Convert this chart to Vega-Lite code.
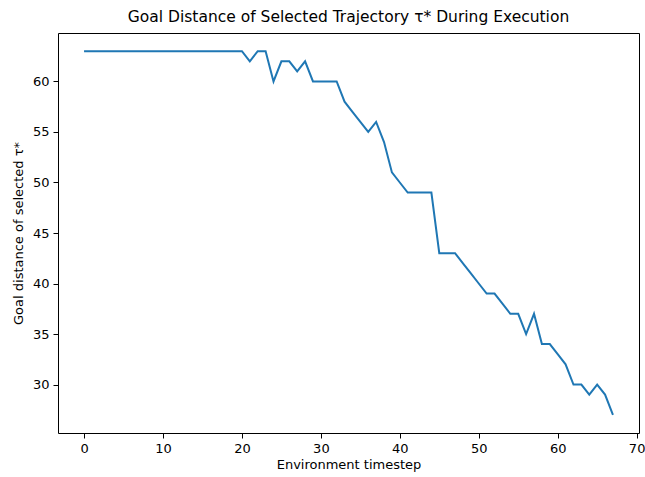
{
  "$schema": "https://vega.github.io/schema/vega-lite/v6.json",
  "width": 581,
  "height": 400,
  "autosize": {"type": "none"},
  "padding": {"left": 58, "top": 33, "right": 6, "bottom": 44},
  "background": "white",
  "config": {
    "font": "DejaVu Sans",
    "view": {"stroke": "black", "strokeWidth": 1},
    "axis": {"grid": false, "domain": false, "tickColor": "black", "tickSize": 5, "labelColor": "black", "titleColor": "black", "labelFontSize": 13, "titleFontSize": 13, "titleFontWeight": "normal", "labelFont": "DejaVu Sans", "titleFont": "DejaVu Sans"}
  },
  "title": {"text": "Goal Distance of Selected Trajectory τ* During Execution", "font": "DejaVu Sans", "fontSize": 15.5, "fontWeight": "normal", "color": "black", "offset": 8},
  "data": {"values": [
    {"t": 0, "d": 63}, {"t": 1, "d": 63}, {"t": 2, "d": 63}, {"t": 3, "d": 63}, {"t": 4, "d": 63},
    {"t": 5, "d": 63}, {"t": 6, "d": 63}, {"t": 7, "d": 63}, {"t": 8, "d": 63}, {"t": 9, "d": 63},
    {"t": 10, "d": 63}, {"t": 11, "d": 63}, {"t": 12, "d": 63}, {"t": 13, "d": 63}, {"t": 14, "d": 63},
    {"t": 15, "d": 63}, {"t": 16, "d": 63}, {"t": 17, "d": 63}, {"t": 18, "d": 63}, {"t": 19, "d": 63},
    {"t": 20, "d": 63}, {"t": 21, "d": 62}, {"t": 22, "d": 63}, {"t": 23, "d": 63}, {"t": 24, "d": 60},
    {"t": 25, "d": 62}, {"t": 26, "d": 62}, {"t": 27, "d": 61}, {"t": 28, "d": 62}, {"t": 29, "d": 60},
    {"t": 30, "d": 60}, {"t": 31, "d": 60}, {"t": 32, "d": 60}, {"t": 33, "d": 58}, {"t": 34, "d": 57},
    {"t": 35, "d": 56}, {"t": 36, "d": 55}, {"t": 37, "d": 56}, {"t": 38, "d": 54}, {"t": 39, "d": 51},
    {"t": 40, "d": 50}, {"t": 41, "d": 49}, {"t": 42, "d": 49}, {"t": 43, "d": 49}, {"t": 44, "d": 49},
    {"t": 45, "d": 43}, {"t": 46, "d": 43}, {"t": 47, "d": 43}, {"t": 48, "d": 42}, {"t": 49, "d": 41},
    {"t": 50, "d": 40}, {"t": 51, "d": 39}, {"t": 52, "d": 39}, {"t": 53, "d": 38}, {"t": 54, "d": 37},
    {"t": 55, "d": 37}, {"t": 56, "d": 35}, {"t": 57, "d": 37}, {"t": 58, "d": 34}, {"t": 59, "d": 34},
    {"t": 60, "d": 33}, {"t": 61, "d": 32}, {"t": 62, "d": 30}, {"t": 63, "d": 30}, {"t": 64, "d": 29},
    {"t": 65, "d": 30}, {"t": 66, "d": 29}, {"t": 67, "d": 27}
  ]},
  "mark": {"type": "line", "color": "#1f77b4", "strokeWidth": 2},
  "encoding": {
    "x": {"field": "t", "type": "quantitative", "scale": {"domain": [-3.3, 70.3], "nice": false, "zero": false}, "axis": {"values": [0, 10, 20, 30, 40, 50, 60, 70], "title": "Environment timestep", "titlePadding": 3, "labelPadding": 4}},
    "y": {"field": "d", "type": "quantitative", "scale": {"domain": [25.2, 64.8], "nice": false, "zero": false}, "axis": {"values": [30, 35, 40, 45, 50, 55, 60], "title": "Goal distance of selected τ*", "titlePadding": 7, "labelPadding": 4}}
  }
}
